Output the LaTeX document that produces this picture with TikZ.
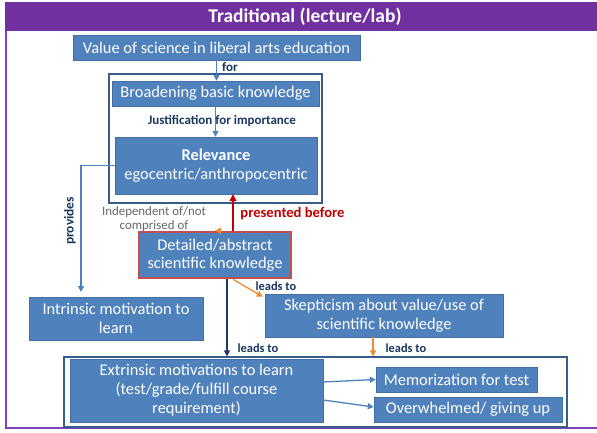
\documentclass[tikz,border=0pt]{standalone}
\usepackage{fontspec}
\setmainfont{Carlito}
\usetikzlibrary{arrows.meta,calc}
\definecolor{boxblue}{HTML}{4F81BD}
\definecolor{boxedge}{HTML}{385D8A}
\definecolor{navy}{HTML}{1F3864}
\definecolor{lbl}{HTML}{17375E}
\definecolor{hdr}{HTML}{7030A0}
\definecolor{frm}{HTML}{7F3FBF}
\definecolor{org}{HTML}{F08A2C}
\definecolor{dred}{HTML}{C00000}
\definecolor{redge}{HTML}{C0504D}
\tikzset{
  bx/.style={fill=boxblue, draw=boxblue!85!black, line width=0.4pt, text=white, align=center, inner sep=0pt, font=\fontsize{16.4}{19}\selectfont},
  grp/.style={draw=boxedge, line width=1.2pt, inner sep=0pt},
  arb/.style={draw=boxblue, line width=1.3pt, -{Triangle[length=6pt,width=6pt]}},
  arn/.style={draw=navy, line width=1.3pt, -{Triangle[length=6pt,width=6pt]}},
  aro/.style={draw=org, line width=1.3pt, -{Triangle[length=6pt,width=6pt]}},
  arr/.style={draw=dred, line width=1.5pt, -{Triangle[length=7pt,width=7pt]}},
  lab/.style={text=lbl, font=\bfseries\fontsize{13}{15}\selectfont, inner sep=0pt},
  leadlab/.style={text=lbl, font=\bfseries\fontsize{12.4}{14}\selectfont, inner sep=0pt},
}
\begin{document}
\begin{tikzpicture}[x=1pt,y=-1pt]
\useasboundingbox (0,0) rectangle (597,433);
% frame and header
\draw[frm, line width=1.8pt] (6,3) rectangle (610,428);
\fill[hdr] (5,2) rectangle (610,31);
\node[text=white, font=\bfseries\fontsize{19.5}{22}\selectfont] (title) at (305,17) {Traditional (lecture/lab)};
% group boxes
\node[grp, minimum width=213pt, minimum height=129pt] (g1) at (215.5,138.5) {};
\node[grp, minimum width=503pt, minimum height=70pt] (g2) at (315.5,392) {};
% boxes
\node[bx, minimum width=287pt, minimum height=25pt] (val) at (216.5,47.5) {Value of science in liberal arts education};
\node[bx, minimum width=207pt, minimum height=25pt] (broad) at (215.5,93.5) {Broadening basic knowledge};
\node[bx, minimum width=202pt, minimum height=57pt] (rel) at (216,165.5) {\textbf{Relevance}\\egocentric/anthropocentric};
\node[bx, draw=redge, line width=2.6pt, minimum width=152pt, minimum height=46pt, font=\fontsize{16.4}{18.5}\selectfont] (det) at (215,255) {Detailed/abstract\\scientific knowledge};
\node[bx, minimum width=174pt, minimum height=43pt] (intr) at (116,318.5) {Intrinsic motivation to\\learn};
\node[bx, minimum width=238pt, minimum height=43pt] (skep) at (384,315.5) {Skepticism about value/use of\\scientific knowledge};
\node[bx, minimum width=253pt, minimum height=63pt] (extr) at (196.5,390.5) {Extrinsic motivations to learn\\(test/grade/fulfill course\\requirement)};
\node[bx, minimum width=161pt, minimum height=25pt] (mem) at (456.5,379.5) {Memorization for test};
\node[bx, minimum width=188pt, minimum height=25pt] (over) at (468,409.5) {Overwhelmed/ giving up};
% coordinates
\coordinate (pv) at (81,292);
% connectors
\draw[arb] (val.south) -- (val.south |- broad.north);
\node[lab] (lfor) at (230,67) {for};
\draw[arb] (broad.south) -- (broad.south |- rel.north);
\node[lab] (ljus) at (222,121) {Justification for importance};
\draw[arb] (rel.west) -| (pv);
\node[lab, rotate=90, font=\bfseries\fontsize{13.4}{15}\selectfont] (lprov) at (70,221) {provides};
\draw[aro] (det.north -| g1.south) -- (det.north);
\node[text=gray!80!black, align=center, inner sep=0pt, font=\fontsize{12.9}{14}\selectfont] (lind) at (154,219.5) {Independent of/not\\comprised of};
\draw[arr] ([xshift=18pt]det.north) -- ([xshift=18pt]det.north |- rel.south);
\node[text=dred, font=\bfseries\fontsize{14.6}{16}\selectfont, inner sep=0pt] (lpres) at (292.5,214) {presented before};
\draw[aro] ([xshift=18pt]det.south) -- ([yshift=-3pt,xshift=-2pt]skep.north west);
\node[leadlab] (llead1) at (276,286) {leads to};
\draw[arn] ([xshift=12pt]det.south) -- ([xshift=12pt]det.south |- g2.north);
\node[leadlab] (llead2) at (258,348) {leads to};
\draw[aro] ([xshift=-11pt]skep.south) -- ([xshift=-11pt]skep.south |- g2.north);
\node[leadlab] (llead3) at (406,348) {leads to};
\draw[arb] ([yshift=8.5pt]extr.east) -- (mem.west);
\draw[arb] ([yshift=-9.5pt]extr.east) -- ([yshift=2.5pt]over.west);
\end{tikzpicture}
\end{document}
